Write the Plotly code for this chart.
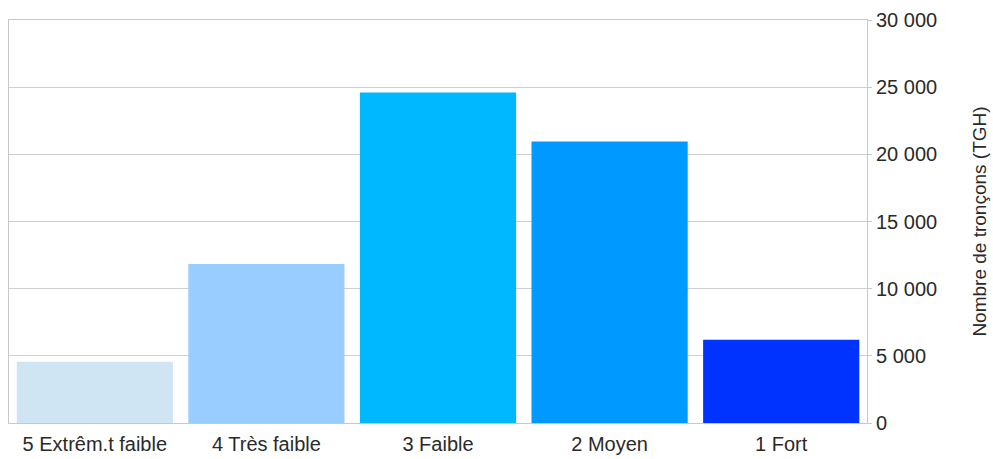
import plotly.graph_objects as go

categories = ["5 Extrêm.t faible", "4 Très faible", "3 Faible", "2 Moyen", "1 Fort"]
values = [4560, 11840, 24600, 20950, 6200]
colors = ["#cfe5f3", "#99ccff", "#00b8ff", "#0099ff", "#0033ff"]
tick_vals = [0, 5000, 10000, 15000, 20000, 25000, 30000]
tick_text = ["0", "5 000", "10 000", "15 000", "20 000", "25 000", "30 000"]
y_title = "Nombre de tronçons (TGH)"

fig = go.Figure(go.Bar(
    x=categories, y=values,
    marker=dict(color=colors, line=dict(width=0)),
    width=0.91,
))

fig.update_layout(
    width=993, height=459,
    margin=dict(l=9, r=126, t=20, b=36),
    paper_bgcolor="white", plot_bgcolor="white",
    font=dict(family="Liberation Sans, Arial, sans-serif", size=20, color="#2a2a2a"),
    showlegend=False,
    bargap=0.09,
)
fig.update_xaxes(
    showline=True, linecolor="#c8c8c8", linewidth=1, mirror=True,
    ticks="", tickfont=dict(size=20), showgrid=False, ticklabelstandoff=3,
    automargin=False,
)
fig.update_yaxes(
    side="right", range=[0, 30000], tickvals=tick_vals, ticktext=tick_text,
    showgrid=True, gridcolor="#d0d0d0", gridwidth=1,
    showline=True, linecolor="#c8c8c8", linewidth=1, mirror=True,
    ticks="outside", ticklen=4, tickcolor="#c8c8c8",
    tickfont=dict(size=20),
    title=dict(text=y_title, font=dict(size=19), standoff=36),
    zeroline=False, automargin=False,
)

fig.write_html("out.html")
